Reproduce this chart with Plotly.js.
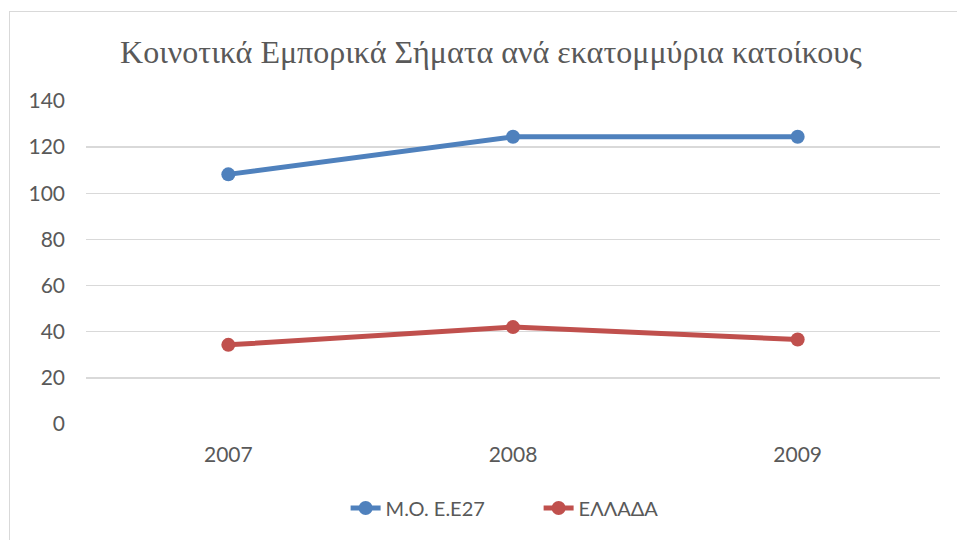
<!DOCTYPE html>
<html><head><meta charset="utf-8">
<script src="https://cdn.plot.ly/plotly-3.0.1.min.js"></script>
<style>
body{margin:0;padding:0;background:#fff;}
#chart{width:957px;height:540px;position:absolute;left:0;top:0;}
#frame{position:absolute;left:9px;top:11px;width:1000px;height:600px;border:1px solid #d9d9d9;pointer-events:none;box-sizing:border-box;}
</style></head>
<body>
<div id="chart"></div>
<div id="frame"></div>
<script>
const years = ['2007', '2008', '2009'];
const eu27 = [108.2, 124.5, 124.5];
const greece = [34.3, 42.0, 36.6];
const seriesNames = ['Μ.Ο. Ε.Ε27', 'ΕΛΛΑΔΑ'];
const titleText = 'Κοινοτικά Εμπορικά Σήματα ανά εκατομμύρια κατοίκους';

const traces = [
  {x: years, y: eu27, name: seriesNames[0], type: 'scatter', mode: 'lines+markers',
   line: {color: '#4f81bd', width: 5}, marker: {color: '#4f81bd', size: 14}},
  {x: years, y: greece, name: seriesNames[1], type: 'scatter', mode: 'lines+markers',
   line: {color: '#c0504d', width: 5}, marker: {color: '#c0504d', size: 14}}
];

const layout = {
  width: 957, height: 540,
  margin: {l: 86, r: 17, t: 101, b: 116, autoexpand: false},
  paper_bgcolor: 'rgba(0,0,0,0)', plot_bgcolor: 'rgba(0,0,0,0)',
  title: {text: titleText, font: {family: 'Liberation Serif', size: 32, color: '#595959'},
          x: 0.513, xanchor: 'center', y: 0.905, yanchor: 'middle'},
  xaxis: {type: 'category', range: [-0.5, 2.5], showgrid: false, zeroline: false, showline: false,
          tickfont: {family: 'Lato', size: 21, color: '#595959'}, ticks: '', ticklabelstandoff: 16},
  yaxis: {range: [0, 140], dtick: 20, showgrid: true, gridcolor: '#d9d9d9', gridwidth: 1.5,
          zeroline: false, showline: false, ticks: '',
          tickfont: {family: 'Lato', size: 21, color: '#595959'}, ticklabelstandoff: 20},
  showlegend: true,
  legend: {orientation: 'h', x: 0.304, xanchor: 'left', y: -0.26, yanchor: 'middle',
           entrywidth: 148, entrywidthmode: 'pixels',
           font: {family: 'Lato', size: 20, color: '#595959'}, bgcolor: 'rgba(0,0,0,0)'}
};

Plotly.newPlot('chart', traces, layout, {displayModeBar: false, staticPlot: true});
</script>
</body></html>
